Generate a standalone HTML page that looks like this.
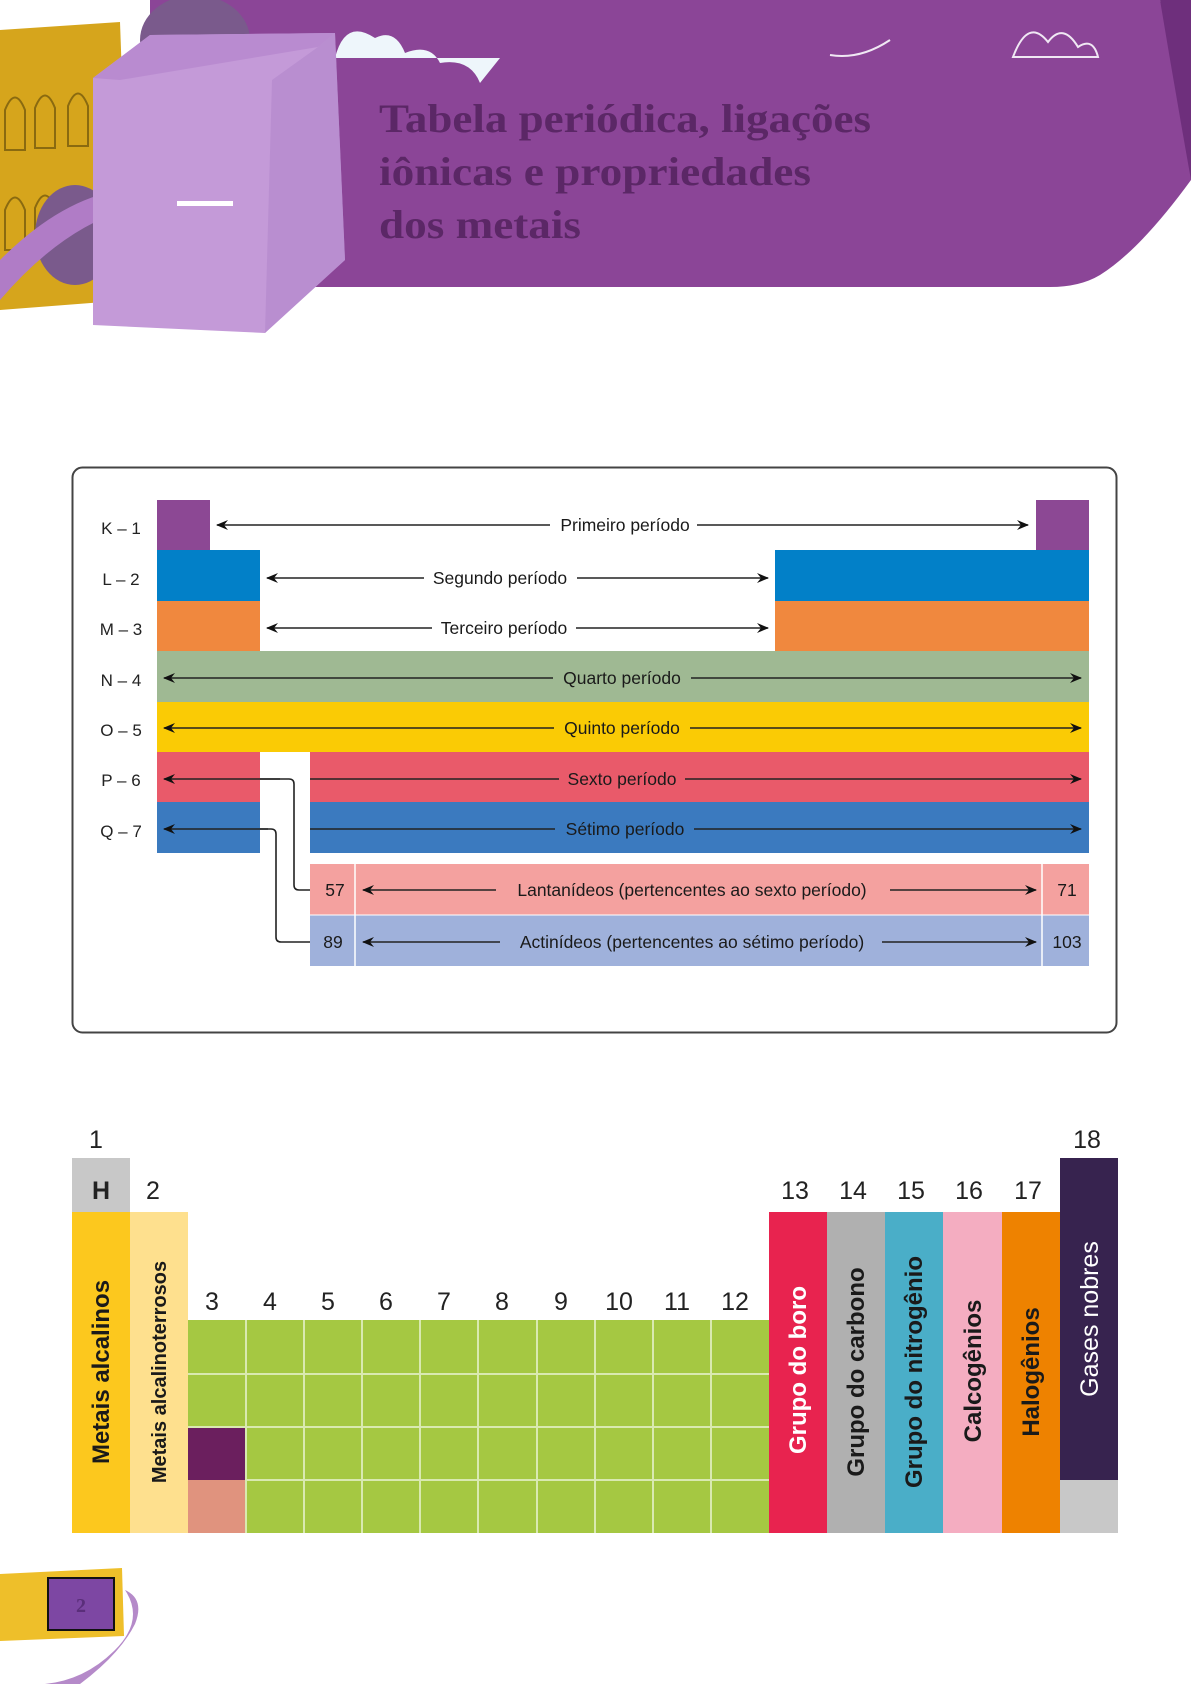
<!DOCTYPE html>
<html><head><meta charset="utf-8"><style>
html,body{margin:0;padding:0;background:#fff}
svg{display:block}
text{font-family:"Liberation Sans",sans-serif}
</style></head><body>
<svg width="1191" height="1684" viewBox="0 0 1191 1684" xmlns="http://www.w3.org/2000/svg">
<defs>
<marker id="ah" markerWidth="12" markerHeight="10" refX="11" refY="5" orient="auto" markerUnits="userSpaceOnUse">
<path d="M0,0 L12,5 L0,10 L4,5 Z" fill="#111"/></marker>
<marker id="at" markerWidth="12" markerHeight="10" refX="1" refY="5" orient="auto" markerUnits="userSpaceOnUse">
<path d="M12,0 L0,5 L12,10 L8,5 Z" fill="#111"/></marker>
</defs>
<path d="M150,0 L1160,0 Q1175,60 1191,130 L1191,180 Q1140,250 1100,275 Q1080,287 1050,287 L200,287 L150,287 Z" fill="#8b4597"/>
<path d="M1160,0 L1191,0 L1191,180 Q1175,90 1160,0 Z" fill="#6e2f7c"/>
<path d="M0,30 L120,22 L130,300 L0,310 Z" fill="#d6a51c"/>
<g fill="none" stroke="#8a6a10" stroke-width="2">
<path d="M5,110 q10,-25 20,0 v40 h-20z M35,108 q10,-25 20,0 v40 h-20z M68,106 q10,-25 20,0 v40 h-20z"/>
<path d="M5,210 q10,-25 20,0 v40 h-20z M35,208 q10,-25 20,0 v40 h-20z"/>
</g>
<ellipse cx="195" cy="40" rx="55" ry="45" fill="#7a5a8c"/>
<ellipse cx="75" cy="235" rx="40" ry="50" fill="#7a5a8c"/>
<path d="M0,260 Q60,200 120,190 L125,210 Q60,230 0,300 Z" fill="#b07cc6"/>
<path d="M335,58 q10,-40 40,-20 q20,-10 30,15 q25,-10 35,10 q30,-5 40,20 L500,58 Z" fill="#eef6fb"/>
<path d="M830,55 q30,5 60,-15" stroke="#f0e8f4" stroke-width="2" fill="none"/>
<path d="M1013,57 q15,-40 35,-15 q15,-20 30,5 q15,-10 20,10 Z" fill="none" stroke="#f0e8f4" stroke-width="2"/>
<path d="M93,78 L150,35 L335,33 L345,260 L265,333 L93,325 Z" fill="#c49ad8"/>
<path d="M93,78 L150,35 L335,33 L318,47 L120,80 Z" fill="#b98bd0"/>
<path d="M318,47 L335,33 L345,260 L265,333 L272,80 Z" fill="#b387cc" opacity="0.6"/>
<rect x="177" y="201" width="56" height="5" fill="#fff"/>
<g style="font-family:'Liberation Serif',serif;font-weight:bold" font-size="40" fill="#5b2766">
<text style="font-family:'Liberation Serif',serif" x="379" y="132" textLength="492" lengthAdjust="spacingAndGlyphs">Tabela periódica, ligações</text>
<text style="font-family:'Liberation Serif',serif" x="379" y="185" textLength="432" lengthAdjust="spacingAndGlyphs">iônicas e propriedades</text>
<text style="font-family:'Liberation Serif',serif" x="379" y="238" textLength="202" lengthAdjust="spacingAndGlyphs">dos metais</text>
</g>

<rect x="72.5" y="467.5" width="1044" height="565" rx="10" fill="#fff" stroke="#444" stroke-width="2"/>
<rect x="157" y="500" width="53" height="50" fill="#8c4894"/>
<rect x="1036" y="500" width="53" height="50" fill="#8c4894"/>
<rect x="157" y="550" width="103" height="51" fill="#0280c8"/>
<rect x="775" y="550" width="314" height="51" fill="#0280c8"/>
<rect x="157" y="601" width="103" height="50" fill="#f0883e"/>
<rect x="775" y="601" width="314" height="50" fill="#f0883e"/>
<rect x="157" y="651" width="932" height="51" fill="#9fb993"/>
<rect x="157" y="702" width="932" height="50" fill="#facb05"/>
<rect x="157" y="752" width="103" height="50" fill="#e95a6a"/>
<rect x="310" y="752" width="779" height="50" fill="#e95a6a"/>
<rect x="157" y="802" width="103" height="51" fill="#3b7abf"/>
<rect x="310" y="802" width="779" height="51" fill="#3b7abf"/>
<rect x="310" y="864" width="779" height="51" fill="#f4a19f"/>
<rect x="310" y="915" width="779" height="51" fill="#9fb1db"/>
<line x1="355" y1="864" x2="355" y2="966" stroke="#fff" stroke-width="1.5"/>
<line x1="1042" y1="864" x2="1042" y2="966" stroke="#fff" stroke-width="1.5"/>
<line x1="310" y1="915" x2="1089" y2="915" stroke="#fff" stroke-width="1"/>
<g font-size="17" fill="#222" text-anchor="middle">
<text x="121" y="534">K – 1</text>
<text x="121" y="585">L – 2</text>
<text x="121" y="635">M – 3</text>
<text x="121" y="686">N – 4</text>
<text x="121" y="736">O – 5</text>
<text x="121" y="786">P – 6</text>
<text x="121" y="837">Q – 7</text>
</g>
<g stroke="#222" stroke-width="1.6" fill="none">
<line x1="217" y1="525" x2="550" y2="525" marker-start="url(#at)"/>
<line x1="697" y1="525" x2="1028" y2="525" marker-end="url(#ah)"/>
<line x1="267" y1="578" x2="424" y2="578" marker-start="url(#at)"/>
<line x1="577" y1="578" x2="768" y2="578" marker-end="url(#ah)"/>
<line x1="267" y1="628" x2="432" y2="628" marker-start="url(#at)"/>
<line x1="576" y1="628" x2="768" y2="628" marker-end="url(#ah)"/>
<line x1="164" y1="678" x2="553" y2="678" marker-start="url(#at)"/>
<line x1="691" y1="678" x2="1081" y2="678" marker-end="url(#ah)"/>
<line x1="164" y1="728" x2="554" y2="728" marker-start="url(#at)"/>
<line x1="690" y1="728" x2="1081" y2="728" marker-end="url(#ah)"/>
<line x1="164" y1="779" x2="280" y2="779" marker-start="url(#at)"/>
<line x1="310" y1="779" x2="559" y2="779"/>
<line x1="685" y1="779" x2="1081" y2="779" marker-end="url(#ah)"/>
<line x1="164" y1="829" x2="268" y2="829" marker-start="url(#at)"/>
<line x1="310" y1="829" x2="555" y2="829"/>
<line x1="694" y1="829" x2="1081" y2="829" marker-end="url(#ah)"/>
<line x1="363" y1="890" x2="496" y2="890" marker-start="url(#at)"/>
<line x1="890" y1="890" x2="1036" y2="890" marker-end="url(#ah)"/>
<line x1="363" y1="942" x2="500" y2="942" marker-start="url(#at)"/>
<line x1="882" y1="942" x2="1036" y2="942" marker-end="url(#ah)"/>
<path d="M260,779 H289 Q294,779 294,784 V885 Q294,890 299,890 H310"/>
<path d="M260,829 H271 Q276,829 276,834 V937 Q276,942 281,942 H310"/>
</g>
<g font-size="17.5" fill="#1a1a1a" text-anchor="middle">
<text x="625" y="531">Primeiro período</text>
<text x="500" y="584">Segundo período</text>
<text x="504" y="634">Terceiro período</text>
<text x="622" y="684">Quarto período</text>
<text x="622" y="734">Quinto período</text>
<text x="622" y="785">Sexto período</text>
<text x="625" y="835">Sétimo período</text>
<text x="692" y="896">Lantanídeos (pertencentes ao sexto período)</text>
<text x="692" y="948">Actinídeos (pertencentes ao sétimo período)</text>
<text x="335" y="896">57</text>
<text x="333" y="948">89</text>
<text x="1067" y="896">71</text>
<text x="1067" y="948">103</text>
</g>

<rect x="72" y="1158" width="58" height="54" fill="#c8c8c8"/>
<rect x="72" y="1212" width="58" height="321" fill="#fcc81e"/>
<rect x="130" y="1212" width="58" height="321" fill="#fee08e"/>
<rect x="188" y="1320" width="581" height="213" fill="#a5c842"/>
<rect x="188" y="1427" width="58" height="53" fill="#6b1f5e"/>
<rect x="188" y="1480" width="58" height="53" fill="#e0937e"/>
<g stroke="#d9e9b0" stroke-width="2">
<line x1="188" y1="1374" x2="769" y2="1374"/>
<line x1="188" y1="1427" x2="769" y2="1427"/>
<line x1="246" y1="1480" x2="769" y2="1480"/>
<line x1="246" y1="1320" x2="246" y2="1533"/>
<line x1="304" y1="1320" x2="304" y2="1533"/>
<line x1="362" y1="1320" x2="362" y2="1533"/>
<line x1="420" y1="1320" x2="420" y2="1533"/>
<line x1="478" y1="1320" x2="478" y2="1533"/>
<line x1="537" y1="1320" x2="537" y2="1533"/>
<line x1="595" y1="1320" x2="595" y2="1533"/>
<line x1="653" y1="1320" x2="653" y2="1533"/>
<line x1="711" y1="1320" x2="711" y2="1533"/>
</g>
<rect x="769" y="1212" width="58" height="321" fill="#e8234f"/>
<rect x="827" y="1212" width="58" height="321" fill="#b0b0b0"/>
<rect x="885" y="1212" width="58" height="321" fill="#4aaec8"/>
<rect x="943" y="1212" width="59" height="321" fill="#f4adc1"/>
<rect x="1002" y="1212" width="58" height="321" fill="#ee8200"/>
<rect x="1060" y="1158" width="58" height="322" fill="#37234f"/>
<rect x="1060" y="1480" width="58" height="53" fill="#c8c8c8"/>
<g font-size="25" fill="#222" text-anchor="middle">
<text x="96" y="1148">1</text>
<text x="1087" y="1148">18</text>
<text x="101" y="1199" font-weight="bold">H</text>
<text x="153" y="1199">2</text>
<text x="795" y="1199">13</text>
<text x="853" y="1199">14</text>
<text x="911" y="1199">15</text>
<text x="969" y="1199">16</text>
<text x="1028" y="1199">17</text>
<text x="212" y="1310">3</text>
<text x="270" y="1310">4</text>
<text x="328" y="1310">5</text>
<text x="386" y="1310">6</text>
<text x="444" y="1310">7</text>
<text x="502" y="1310">8</text>
<text x="561" y="1310">9</text>
<text x="619" y="1310">10</text>
<text x="677" y="1310">11</text>
<text x="735" y="1310">12</text>
</g>
<g font-weight="bold" text-anchor="middle">
<text transform="translate(109,1372) rotate(-90)" font-size="24" fill="#1a1a1a">Metais alcalinos</text>
<text transform="translate(166,1372) rotate(-90)" font-size="20" fill="#1a1a1a">Metais alcalinoterrosos</text>
<text transform="translate(806,1370) rotate(-90)" font-size="24" fill="#fff">Grupo do boro</text>
<text transform="translate(864,1372) rotate(-90)" font-size="24" fill="#1a1a1a">Grupo do carbono</text>
<text transform="translate(922,1372) rotate(-90)" font-size="24" fill="#1a1a1a">Grupo do nitrogênio</text>
<text transform="translate(981,1371) rotate(-90)" font-size="24" fill="#1a1a1a">Calcogênios</text>
<text transform="translate(1039,1372) rotate(-90)" font-size="24" fill="#1a1a1a">Halogênios</text>
<text transform="translate(1098,1319) rotate(-90)" font-size="25" font-weight="normal" fill="#fff">Gases nobres</text>
</g>

<path d="M0,1574 L122,1568 L124,1636 L0,1641 Z" fill="#eebf2a"/>
<path d="M125,1590 q20,30 -10,60 q-30,30 -70,34 L80,1684 q40,-30 55,-60 q10,-25 -10,-34 Z" fill="#b58ac9"/>
<rect x="48" y="1578" width="66" height="52" fill="#7d47a3" stroke="#111" stroke-width="2"/>
<text x="81" y="1612" style="font-family:'Liberation Serif',serif" font-weight="bold" font-size="20" fill="#5a2e7a" text-anchor="middle">2</text>
</svg>
</body></html>
